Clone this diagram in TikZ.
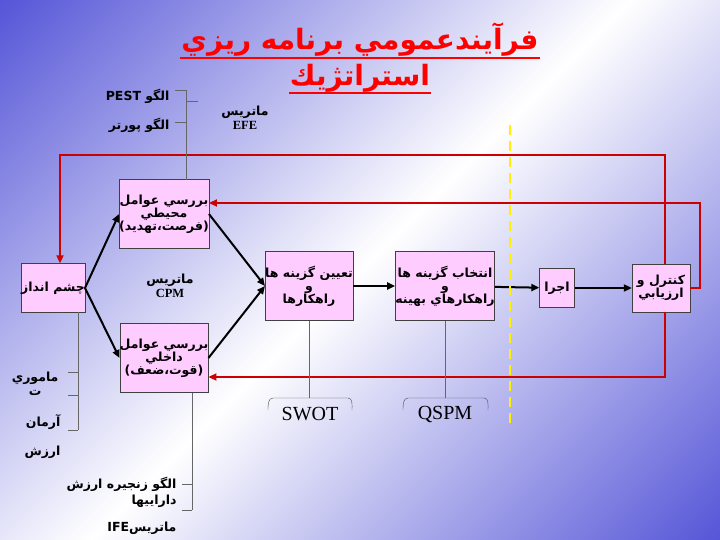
\documentclass[tikz,border=0pt]{standalone}
\usepackage{fontspec}
\setmainfont{Liberation Serif}
\newfontfamily\arabicfont[Script=Arabic]{DejaVu Sans Bold}
\TeXXeTstate=1
\usetikzlibrary{arrows.meta}
\newcommand{\ar}[1]{{\arabicfont\beginR #1\endR}}
\definecolor{boxpink}{HTML}{FFCCFF}
\definecolor{loopred}{HTML}{CC0000}
\definecolor{bgblue}{HTML}{3C3CD2}
\begin{document}
\begin{tikzpicture}[x=1pt, y=-1pt,
    box/.style={draw=black!75, fill=boxpink, align=center, inner sep=0pt,
                font=\fontsize{12.5}{13}\selectfont},
    flow/.style={-{Triangle[length=8pt,width=7pt]}, line width=2pt},
    loop/.style={-{Triangle[length=8pt,width=7pt]}, draw=loopred, line width=2.5pt},
    tie/.style={draw=black!60, line width=0.9pt},
    lbl/.style={align=center, font=\fontsize{12.5}{14}\selectfont}]

  \useasboundingbox (0,0) rectangle (720,540);
  \shade[top color=bgblue, bottom color=bgblue, middle color=white, shading angle=45]
    (-200,-200) rectangle (920,740);

  % title
  \node[text=red, font=\fontsize{28}{30}\selectfont, inner sep=1pt] (t1) at (360,40) {\ar{فرآيندعمومي برنامه ريزي}};
  \node[text=red, font=\fontsize{28}{30}\selectfont, inner sep=1pt] (t2) at (360,78) {\ar{استراتژيك}};
  \draw[red, line width=2pt] (t1.south west) -- (t1.south east);
  \draw[red, line width=2pt] (t2.south west) -- (t2.south east);

  % boxes
  \node[box, minimum width=58, minimum height=49] (vis) at (53,288) {\ar{چشم انداز}};
  \node[box, minimum width=79, minimum height=69] (env) at (164,214)
    {\ar{بررسي عوامل}\\\ar{محيطي}\\\ar{(فرصت،تهديد)}};
  \node[box, minimum width=79, minimum height=69] (int) at (164,358)
    {\ar{بررسي عوامل}\\\ar{داخلي}\\\ar{(قوت،ضعف)}};
  \node[box, minimum width=78, minimum height=69] (alt) at (309,286)
    {\ar{تعيين گزينه ها}\\\ar{و}\\\ar{راهكارها}};
  \node[box, minimum width=86, minimum height=69] (sel) at (445,286)
    {\ar{انتخاب گزينه ها}\\\ar{و}\\\ar{راهكارهاي بهينه}};
  \node[box, minimum width=35, minimum height=39] (exe) at (557,288) {\ar{اجرا}};
  \node[box, minimum width=58, minimum height=48] (ctl) at (661,288)
    {\ar{كنترل و}\\\ar{ارزيابي}};

  % flow
  \draw[flow] (vis.east) -- (env.west);
  \draw[flow] (vis.east) -- (int.west);
  \draw[flow] (env.east) -- (alt.west);
  \draw[flow] (int.east) -- (alt.west);
  \draw[flow] (alt) -- (sel);
  \draw[flow] (sel) -- (exe);
  \draw[flow] (exe) -- (ctl);

  % feedback
  \coordinate (c1) at (665,264);
  \coordinate (c2) at (665,312);
  \draw[loop] (c1) |- (60,155) -- (vis.north -| 60,0);
  \draw[loop] (ctl.east) -| (700,203) -- (env.east |- 0,203);
  \draw[loop] (c2) |- (int.east |- 0,377);

  \draw[yellow, line width=2.5pt, dash pattern=on 10pt off 6pt] (510,125) -- (510,425);

  % tools and inputs
  \draw[tie] (186,180) -- (186,90) (175,90) -- (186,90) (175,122) -- (186,122) (186,101) -- (198,101);
  \node[lbl, anchor=east] (pest) at (173,96) {\ar{الگو \beginL\textbf{PEST}\endL}};
  \node[lbl, anchor=east] (port) at (173,125) {\ar{الگو پورتر}};
  \node[lbl] (efe) at (245,118) {\ar{ماتريس}\\\textbf{EFE}};
  \node[lbl] (cpm) at (170,286) {\ar{ماتريس}\\\textbf{CPM}};

  \draw[tie] (78,312) -- (78,430) (68,372) -- (78,372) (68,395) -- (78,395) (68,430) -- (78,430);
  \node[lbl, anchor=east] (mis) at (62,384) {\ar{ماموري}\\\ar{ت}};
  \node[lbl, anchor=east] (arm) at (64,422) {\ar{آرمان}};
  \node[lbl, anchor=east] (val) at (64,452) {\ar{ارزش}};

  \draw[tie] (192,393) -- (192,510) (182,484) -- (192,484) (182,510) -- (192,510);
  \node[lbl, anchor=east] (chain) at (180,484) {\ar{الگو  زنجيره  ارزش}};
  \node[lbl, anchor=east] (asset) at (180,501) {\ar{داراييها}};
  \node[lbl, anchor=east] (ife) at (180,528) {\ar{ماتريس\beginL\textbf{IFE}\endL}};

  \draw[tie] (alt.south) -- (309,398);
  \draw[tie] (sel.south) -- (445,398);
  \node[font=\fontsize{20}{21}\selectfont] (swot) at (310,414) {SWOT};
  \node[font=\fontsize{20}{21}\selectfont] (qspm) at (445,414) {QSPM};
  \draw[black!70] (268,410) to[out=90,in=180] (273,398) -- (348,398) to[out=0,in=90] (352,410);
  \draw[black!70] (403,410) to[out=90,in=180] (408,398) -- (484,398) to[out=0,in=90] (488,410);
\end{tikzpicture}
\end{document}
